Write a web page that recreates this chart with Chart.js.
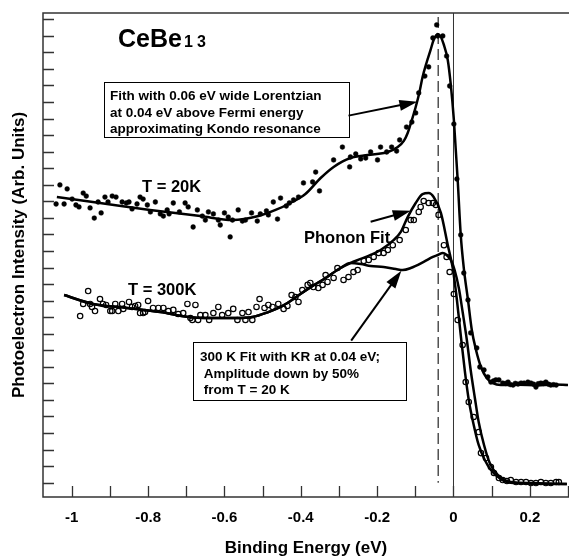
<!DOCTYPE html>
<html>
<head>
<meta charset="utf-8">
<script src="https://cdn.jsdelivr.net/npm/chart.js@4.4.1/dist/chart.umd.min.js"></script>
<style>
  html, body { margin: 0; padding: 0; background: #fff; }
</style>
</head>
<body>
<canvas id="grafico" width="569" height="559"></canvas>
<script>
// energia de ligacao (eV) e intensidade (unid. arb., 1 unidade = 1 marca do eixo y)
const dots20E = [-1.041,-1.031,-1.020,-1.012,-0.999,-0.989,-0.981,-0.970,-0.962,-0.952,
  -0.941,-0.931,-0.923,-0.913,-0.905,-0.894,-0.884,-0.868,-0.857,-0.850,
  -0.842,-0.829,-0.821,-0.813,-0.802,-0.794,-0.781,-0.768,-0.760,-0.750,
  -0.745,-0.734,-0.718,-0.703,-0.695,-0.682,-0.671,-0.658,-0.650,-0.642,
  -0.629,-0.616,-0.611,-0.600,-0.590,-0.585,-0.579,-0.564,-0.553,-0.545,
  -0.529,-0.514,-0.506,-0.490,-0.485,-0.472,-0.461,-0.453,-0.438,-0.430,
  -0.419,-0.406,-0.393,-0.369,-0.361,-0.351,-0.314,-0.291,-0.272,-0.270,
  -0.256,-0.243,-0.230,-0.217,-0.199,-0.191,-0.175,-0.162,-0.149,-0.141,
  -0.123,-0.109,-0.099,-0.091,-0.075,-0.065,-0.054,-0.044,-0.041,-0.028,
  -0.018,-0.010,0.001,0.009,0.019,0.027,0.038,0.045,0.061,0.069,
  0.080,0.090,0.098,0.105,0.111,0.119,0.129,0.137,0.143,0.149,
  0.156,0.162,0.169,0.177,0.185,0.195,0.203,0.210,0.216,0.222,
  0.229,0.236,0.242,0.249,0.255,0.262,0.269];
const dots20I = [16.84,17.99,16.84,17.75,17.14,16.78,16.66,17.50,17.32,16.60,
  15.99,16.96,16.30,17.26,16.96,17.32,17.26,16.96,16.90,16.96,
  16.54,16.84,17.26,17.14,16.78,16.36,16.96,16.24,16.11,16.48,
  16.24,16.90,16.36,16.90,16.66,15.45,16.48,16.11,15.87,16.36,
  16.24,15.87,15.57,16.30,16.05,14.85,15.87,16.48,15.81,15.87,
  16.30,15.81,16.24,16.42,16.18,16.96,15.93,17.20,16.72,16.90,
  17.08,17.26,18.11,18.17,18.77,17.63,19.50,20.28,19.08,19.68,
  19.86,19.56,19.62,19.98,19.50,20.28,19.98,20.28,20.04,20.71,
  21.49,21.79,22.34,23.55,24.57,25.12,26.87,27.66,26.99,26.99,
  25.78,23.97,21.67,18.35,14.97,12.67,11.04,9.05,8.14,6.99,
  6.81,6.39,6.08,6.15,6.21,6.21,6.02,6.00,6.08,5.93,
  5.90,6.00,5.96,6.02,6.02,6.08,6.02,5.95,5.78,5.98,
  6.02,6.00,6.08,5.95,5.90,5.92,5.90];

const fit20E = [-1.039,-0.926,-0.795,-0.663,-0.579,-0.511,-0.466,-0.427,-0.388,-0.348,
  -0.314,-0.270,-0.225,-0.172,-0.146,-0.130,-0.120,-0.109,-0.099,-0.089,
  -0.081,-0.070,-0.060,-0.052,-0.041,-0.033,-0.026,-0.015,-0.007,0.001,
  0.006,0.011,0.019,0.027,0.038,0.048,0.059,0.072,0.087,0.103,
  0.124,0.170,0.220,0.260,0.300];
const fit20I = [17.26,16.90,16.48,16.11,15.87,16.11,16.48,16.90,17.44,18.41,
  19.08,19.62,19.80,19.98,20.28,20.65,21.13,21.92,22.70,23.61,
  24.51,25.42,26.15,26.75,27.11,26.93,26.51,25.54,24.03,21.92,
  20.10,18.29,14.97,12.97,11.04,9.23,8.02,6.99,6.33,6.02,
  5.90,5.92,5.88,5.93,5.90];

const dots300E = [-0.978,-0.970,-0.957,-0.952,-0.947,-0.939,-0.926,-0.918,-0.910,-0.899,
  -0.894,-0.886,-0.878,-0.868,-0.865,-0.850,-0.842,-0.834,-0.826,-0.821,
  -0.813,-0.808,-0.800,-0.787,-0.773,-0.760,-0.747,-0.734,-0.721,-0.708,
  -0.697,-0.689,-0.684,-0.676,-0.669,-0.663,-0.650,-0.640,-0.629,-0.616,
  -0.606,-0.590,-0.577,-0.566,-0.553,-0.545,-0.537,-0.527,-0.516,-0.508,
  -0.495,-0.485,-0.474,-0.459,-0.445,-0.435,-0.424,-0.414,-0.406,-0.396,
  -0.382,-0.375,-0.367,-0.354,-0.343,-0.335,-0.330,-0.314,-0.304,-0.288,
  -0.275,-0.262,-0.251,-0.235,-0.222,-0.209,-0.196,-0.183,-0.172,-0.159,
  -0.141,-0.125,-0.112,-0.104,-0.091,-0.086,-0.078,-0.065,-0.054,-0.046,
  -0.039,-0.025,-0.018,-0.010,0.001,0.011,0.024,0.032,0.040,0.053,
  0.066,0.072,0.085,0.098,0.106,0.119,0.129,0.140,0.150,0.164,
  0.177,0.190,0.203,0.216,0.229,0.242,0.255,0.269,0.276];
const dots300I = [10.07,10.80,11.58,10.80,10.62,10.37,11.10,10.80,10.74,10.37,
  10.37,10.80,10.37,10.80,10.50,10.92,10.62,10.68,10.74,10.25,
  10.25,10.31,10.98,10.56,10.56,10.56,10.37,10.44,10.19,10.25,
  10.80,9.95,9.83,10.74,9.83,10.13,10.13,9.83,10.25,10.62,
  10.13,10.25,10.50,9.83,10.25,9.83,10.31,9.83,10.62,11.10,
  10.56,10.74,10.62,10.80,10.50,10.68,11.34,11.22,10.92,11.64,
  11.95,12.07,11.82,11.76,11.95,12.55,12.13,12.37,12.97,12.25,
  12.43,12.73,12.85,13.40,13.46,13.64,13.88,13.88,14.06,14.35,
  14.66,15.27,15.87,15.87,16.36,16.66,17.02,16.90,16.90,16.78,
  16.18,14.35,13.64,12.73,11.40,9.83,8.32,6.08,4.88,3.97,
  3.06,1.79,1.49,0.95,0.59,0.28,0.16,0.10,0.16,0.04,
  0.04,0.04,-0.02,-0.02,0.04,-0.02,-0.02,0.04,0.04];

// trecho comum aos dois ajustes de 300 K
const fitComumE = [-1.020,-0.944,-0.855,-0.768,-0.695,-0.650,-0.571,-0.527,-0.485,-0.453,
  -0.427,-0.401,-0.369,-0.335,-0.296,-0.270];
const fitComumI = [11.34,10.80,10.56,10.31,10.01,9.95,9.95,10.01,10.31,10.62,
  10.98,11.40,11.89,12.37,12.97,13.27];
// Phonon Fit
const fitFononE = [-0.243,-0.217,-0.191,-0.157,-0.138,-0.120,-0.099,-0.081,-0.065,-0.052,
  -0.033,-0.015,-0.002,0.009,0.019,0.030,0.040,0.053,0.066,0.082,
  0.098,0.124,0.158,0.297];
const fitFononI = [13.52,13.76,14.06,14.66,15.15,16.05,16.90,17.44,17.50,17.26,
  16.30,14.36,12.97,11.04,8.92,6.69,5.00,3.49,2.28,1.37,
  0.77,0.22,-0.02,-0.08];
// 300 K com KR
const fitKrE = [-0.243,-0.217,-0.183,-0.151,-0.133,-0.112,-0.078,-0.054,-0.041,-0.028,
  -0.018,-0.007,0.003,0.014,0.024,0.035,0.045,0.056,0.066,0.080,
  0.095,0.116,0.150,0.203,0.297];
const fitKrI = [13.21,13.09,13.03,12.91,12.85,12.97,13.34,13.64,13.76,13.88,
  13.76,13.46,12.85,11.76,10.31,8.62,6.81,5.12,3.67,2.28,
  1.19,0.47,0.04,-0.02,-0.08];

const rotulosXValores = [-1, -0.8, -0.6, -0.4, -0.2, 0, 0.2];
const rotulosX = ['-1', '-0.8', '-0.6', '-0.4', '-0.2', '0', '0.2'];
const krPosicao = -0.04;

const fonte = '"Liberation Sans", Arial, Helvetica, sans-serif';

function pares(xs, ys) {
  return xs.map((v, i) => ({ x: v, y: ys[i] }));
}

function seta(ctx, x1, y1, x2, y2) {
  const ang = Math.atan2(y2 - y1, x2 - x1);
  const L = 18, W = 5.5;
  const c = Math.cos(ang), s = Math.sin(ang);
  ctx.lineWidth = 2;
  ctx.beginPath();
  ctx.moveTo(x1, y1);
  ctx.lineTo(x2 - L * 0.8 * c, y2 - L * 0.8 * s);
  ctx.stroke();
  ctx.beginPath();
  ctx.moveTo(x2, y2);
  ctx.lineTo(x2 - L * c + W * s, y2 - L * s - W * c);
  ctx.lineTo(x2 - L * c - W * s, y2 - L * s + W * c);
  ctx.closePath();
  ctx.fill();
}

const decoracao = {
  id: 'decoracao',
  beforeDatasetsDraw(chart) {
    const { ctx, chartArea: a, scales: { x, y } } = chart;
    ctx.save();
    // nivel de Fermi
    const x0 = x.getPixelForValue(0);
    ctx.strokeStyle = '#333';
    ctx.lineWidth = 1;
    ctx.beginPath();
    ctx.moveTo(x0, a.top);
    ctx.lineTo(x0, a.bottom);
    ctx.stroke();
    // posicao da ressonancia Kondo
    const xk = x.getPixelForValue(krPosicao);
    ctx.setLineDash([11, 5]);
    ctx.lineWidth = 1.4;
    ctx.strokeStyle = '#444';
    ctx.beginPath();
    ctx.moveTo(xk, a.top + 4);
    ctx.lineTo(xk, y.getPixelForValue(0));
    ctx.stroke();
    ctx.restore();
  },
  afterDraw(chart) {
    const { ctx, chartArea: a, scales: { x, y } } = chart;
    ctx.save();
    ctx.strokeStyle = '#333';
    ctx.fillStyle = '#000';

    // moldura
    ctx.lineWidth = 1.5;
    ctx.beginPath();
    ctx.moveTo(a.right, a.top);
    ctx.lineTo(a.left, a.top);
    ctx.lineTo(a.left, a.bottom);
    ctx.lineTo(a.right, a.bottom);
    ctx.stroke();

    // marcas para dentro
    ctx.lineWidth = 1.3;
    ctx.beginPath();
    x.ticks.forEach(t => {
      const px = Math.round(x.getPixelForValue(t.value)) + 0.5;
      ctx.moveTo(px, a.bottom);
      ctx.lineTo(px, a.bottom - 11);
    });
    y.ticks.forEach(t => {
      const py = Math.round(y.getPixelForValue(t.value)) + 0.5;
      ctx.moveTo(a.left, py);
      ctx.lineTo(a.left + 11, py);
    });
    ctx.stroke();

    // titulo
    ctx.textBaseline = 'alphabetic';
    ctx.font = 'bold 25px ' + fonte;
    ctx.fillText('CeBe', 118, 47);
    ctx.font = 'bold 16px ' + fonte;
    ctx.fillText('1', 184, 47);
    ctx.fillText('3', 197, 47);

    ctx.font = 'bold 16.5px ' + fonte;
    ctx.fillText('T = 20K', 142, 192);
    ctx.fillText('T = 300K', 128, 295);
    ctx.fillText('Phonon Fit', 304, 243);

    // caixas
    ctx.lineWidth = 1;
    ctx.strokeStyle = '#000';
    ctx.fillStyle = '#fff';
    ctx.fillRect(104.5, 82.5, 245, 55);
    ctx.strokeRect(104.5, 82.5, 245, 55);
    ctx.fillRect(193.5, 342.5, 213, 58);
    ctx.strokeRect(193.5, 342.5, 213, 58);

    ctx.fillStyle = '#000';
    ctx.font = 'bold 13.5px ' + fonte;
    ctx.fillText('Fith with 0.06 eV wide Lorentzian', 110, 100);
    ctx.fillText('at 0.04 eV above Fermi energy', 110, 116.5);
    ctx.fillText('approximating Kondo resonance', 110, 133);
    ctx.fillText('300 K Fit with KR at 0.04 eV;', 200, 361);
    ctx.fillText(' Amplitude down by 50%', 200, 377.5);
    ctx.fillText(' from T = 20 K', 200, 394);

    // setas
    ctx.strokeStyle = '#000';
    seta(ctx, x.getPixelForValue(-0.275), y.getPixelForValue(22.18),
              x.getPixelForValue(-0.0945), y.getPixelForValue(23.02));
    seta(ctx, x.getPixelForValue(-0.217), y.getPixelForValue(15.77),
              x.getPixelForValue(-0.112), y.getPixelForValue(16.43));
    seta(ctx, x.getPixelForValue(-0.268), y.getPixelForValue(8.58),
              x.getPixelForValue(-0.1365), y.getPixelForValue(12.81));
    ctx.restore();
  }
};

const linha = { showLine: true, borderColor: '#000', borderWidth: 2.5, pointRadius: 0,
  cubicInterpolationMode: 'monotone', fill: false };

new Chart(document.getElementById('grafico'), {
  type: 'line',
  data: {
    datasets: [
      { data: pares(dots20E, dots20I), showLine: false, pointRadius: 2.4,
        pointBackgroundColor: '#000', pointBorderColor: '#000', pointBorderWidth: 0.5 },
      { data: pares(dots300E, dots300I), showLine: false, pointRadius: 2.7,
        pointBackgroundColor: 'rgba(255,255,255,0)', pointBorderColor: '#000', pointBorderWidth: 1.2 },
      Object.assign({ data: pares(fit20E, fit20I) }, linha),
      Object.assign({ data: pares(fitComumE.concat(fitFononE), fitComumI.concat(fitFononI)) }, linha),
      Object.assign({ data: pares(fitComumE.concat(fitKrE), fitComumI.concat(fitKrI)) }, linha)
    ]
  },
  options: {
    responsive: false,
    animation: false,
    devicePixelRatio: 1,
    layout: { autoPadding: false, padding: { top: 13, left: 0, right: 0, bottom: 0 } },
    plugins: { legend: { display: false }, tooltip: { enabled: false } },
    scales: {
      x: {
        type: 'linear',
        min: -1.0753,
        max: 0.3026,
        afterFit(s) { s.height = 62; s.paddingLeft = 0; s.paddingRight = 0; },
        grid: { drawOnChartArea: false, drawTicks: false },
        border: { display: false },
        ticks: {
          stepSize: 0.1,
          includeBounds: false,
          autoSkip: false,
          maxRotation: 0,
          padding: 12,
          color: '#000',
          font: { family: fonte, size: 15, weight: 'bold' },
          callback(v) {
            const i = rotulosXValores.findIndex(t => Math.abs(t - v) < 1e-6);
            return i >= 0 ? rotulosX[i] : '';
          }
        },
        title: {
          display: true,
          text: 'Binding Energy (eV)',
          color: '#000',
          font: { family: fonte, size: 17, weight: 'bold' },
          padding: { top: 0, bottom: 0 }
        }
      },
      y: {
        type: 'linear',
        min: -0.864,
        max: 28.38,
        afterFit(s) { s.width = 43; },
        grid: { drawOnChartArea: false, drawTicks: false },
        border: { display: false },
        ticks: { display: false, stepSize: 1, includeBounds: false },
        title: {
          display: true,
          text: 'Photoelectron Intensity (Arb. Units)',
          color: '#000',
          font: { family: fonte, size: 17, weight: 'bold' },
          padding: { top: 9, bottom: 0 }
        }
      }
    }
  },
  plugins: [decoracao]
});
</script>
</body>
</html>
